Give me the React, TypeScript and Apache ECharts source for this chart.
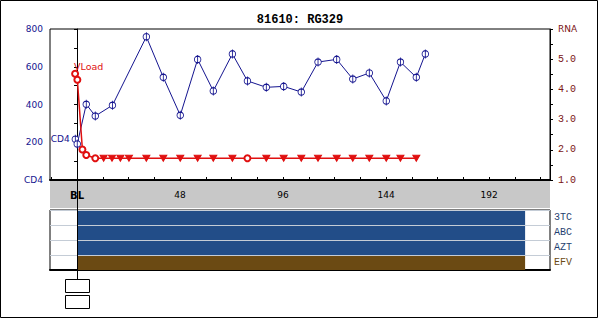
import React, { useEffect, useRef } from "react";
import * as echarts from "echarts";

const chartTitle = "81610: RG329";

const cd4Weeks = [-0.8, 0.1, 4.3, 8.5, 16.5, 32.3, 40.2, 48.1, 56.2, 63.5, 72.4, 79.4, 88.2, 96.3, 104.5, 112.3, 121, 128.5, 136.2, 144.1, 150.7, 158.1, 162.3];
const cd4Values = [216, 191, 401, 339, 396, 759, 544, 343, 639, 472, 668, 525, 491, 496, 466, 625, 639, 535, 567, 419, 625, 544, 668];

const loadWeeks = [-0.9, 0.15, 2.5, 4.3, 8.5, 12.4, 16.3, 20.2, 24.2, 32.3, 40.2, 48.1, 56.2, 63.5, 72.4, 79.4, 88.2, 96.3, 104.5, 112.3, 121, 128.5, 136.2, 144.1, 150.7, 158.1];
const loadValues = [4.52, 4.32, 2.01, 1.83, 1.72, 1.72, 1.72, 1.72, 1.72, 1.72, 1.72, 1.72, 1.72, 1.72, 1.72, 1.72, 1.72, 1.72, 1.72, 1.72, 1.72, 1.72, 1.72, 1.72, 1.72, 1.72];
const loadBelowLimit = [0, 0, 0, 0, 0, 1, 1, 1, 1, 1, 1, 1, 1, 1, 1, 0, 1, 1, 1, 1, 1, 1, 1, 1, 1, 1];

const drugNames = ["3TC", "ABC", "AZT", "EFV"];
const drugStart = [0, 0, 0, 0];
const drugEnd = [208.8, 208.8, 208.8, 208.8];
const drugColors = ["#224d88", "#224d88", "#224d88", "#6b4a13"];
const drugLabelColors = ["#1f3f70", "#1f3f70", "#1f3f70", "#6b4a13"];

const xTicks = [-12, 0, 12, 24, 36, 48, 60, 72, 84, 96, 108, 120, 132, 144, 156, 168, 180, 192, 204, 216];
const xLabels = [0, 48, 96, 144, 192];
const cd4Ticks = [0, 100, 200, 300, 400, 500, 600, 700, 800];
const cd4Labels = [0, 200, 400, 600, 800];
const rnaTicks = [1, 1.5, 2, 2.5, 3, 3.5, 4, 4.5, 5, 5.5, 6];
const rnaLabels = [1, 2, 3, 4, 5, 6];

const X_MIN = -12.6;
const X_MAX = 220.4;

const NAVY = "#14148f";
const RED = "#e01010";
const DARKRED = "#7a1414";
const SANS = "DejaVu Sans";
const MONO = "Liberation Mono";

export default function App() {
  const ref = useRef<HTMLDivElement>(null);

  useEffect(() => {
    if (!ref.current) return;
    const chart = echarts.init(ref.current, undefined, { renderer: "svg" });

    const cd4Data = cd4Weeks.map((w, i) =>
      i === 0
        ? {
            value: [w, cd4Values[i]],
            label: {
              show: true,
              position: "left",
              distance: 2,
              formatter: "CD4",
              color: NAVY,
              fontSize: 9,
              fontFamily: SANS,
            },
          }
        : { value: [w, cd4Values[i]] }
    );

    const loadData = loadWeeks.map((w, i) => {
      const blq = loadBelowLimit[i] === 1;
      const item: any = {
        value: [w, loadValues[i]],
        symbol: blq ? "triangle" : "emptyCircle",
        symbolRotate: blq ? 180 : 0,
        symbolSize: blq ? [7, 6] : 6,
      };
      if (i === 0) {
        item.label = {
          show: true,
          position: [3, -3.5],
          align: "left",
          verticalAlign: "middle",
          formatter: "VLoad",
          color: RED,
          fontSize: 9.5,
          fontFamily: SANS,
        };
      }
      return item;
    });

    const option: any = {
      animation: false,
      backgroundColor: "#fff",
      grid: [
        { left: 50, width: 500, top: 29, height: 151, show: true, borderColor: "#000", borderWidth: 1, backgroundColor: "#fff" },
        { left: 50, width: 500, top: 181, height: 27, show: true, borderWidth: 0, backgroundColor: "#c8c8c8" },
        { left: 50, width: 500, top: 210, height: 60, show: true, borderColor: "#000", borderWidth: 1, backgroundColor: "#fff" },
      ],
      xAxis: [
        {
          gridIndex: 0,
          type: "value",
          min: X_MIN,
          max: X_MAX,
          axisLine: { show: true, lineStyle: { color: "#000", width: 2 } },
          axisTick: { show: true, inside: true, length: 3, customValues: xTicks, lineStyle: { color: "#000" } },
          axisLabel: {
            customValues: xLabels,
            margin: 10,
            color: "#000",
            fontSize: 9,
            fontFamily: SANS,
            formatter: (v: number) => (v === 0 ? "{b|BL}" : String(v)),
            rich: { b: { fontWeight: "bold", fontSize: 10, fontFamily: SANS, color: "#000" } },
          },
          splitLine: { show: false },
        },
        { gridIndex: 1, type: "value", min: X_MIN, max: X_MAX, show: false },
        {
          gridIndex: 2,
          type: "value",
          min: X_MIN,
          max: X_MAX,
          axisLine: { show: true, lineStyle: { color: "#000", width: 2 } },
          axisTick: { show: false },
          axisLabel: { show: false },
          splitLine: { show: false },
        },
      ],
      yAxis: [
        {
          gridIndex: 0,
          type: "value",
          min: 0,
          max: 800,
          position: "left",
          axisLine: { show: true, lineStyle: { color: "#000", width: 1 } },
          axisTick: { show: true, length: 3, customValues: cd4Ticks, lineStyle: { color: "#000" } },
          axisLabel: {
            customValues: cd4Labels,
            margin: 7,
            color: NAVY,
            fontSize: 9,
            fontFamily: SANS,
            formatter: (v: number) => (v === 0 ? "CD4" : String(v)),
          },
          splitLine: { show: false },
        },
        {
          gridIndex: 0,
          type: "value",
          min: 1,
          max: 6,
          position: "right",
          axisLine: { show: true, lineStyle: { color: "#000", width: 1 } },
          axisTick: { show: true, length: 3, customValues: rnaTicks, lineStyle: { color: "#000" } },
          axisLabel: {
            customValues: rnaLabels,
            margin: 8,
            color: DARKRED,
            fontSize: 10,
            fontFamily: MONO,
            formatter: (v: number) => (v === 6 ? "{r|RNA}" : v.toFixed(1)),
            rich: { r: { fontFamily: SANS, fontSize: 9, color: DARKRED } },
          },
          splitLine: { show: false },
        },
        { gridIndex: 1, type: "value", min: 0, max: 1, show: false },
        {
          gridIndex: 2,
          type: "category",
          data: drugNames,
          inverse: true,
          position: "right",
          axisLine: { show: false },
          axisTick: { show: false },
          axisLabel: {
            margin: 4,
            fontSize: 10,
            fontFamily: MONO,
            color: (_v: string, idx: number) => drugLabelColors[idx],
          },
          splitLine: { show: true, lineStyle: { color: "#c4ccd6", width: 1 } },
        },
      ],
      series: [
        {
          name: "CD4",
          type: "line",
          xAxisIndex: 0,
          yAxisIndex: 0,
          data: cd4Data,
          symbol: "path://M5 0A5 5 0 1 1 5 10A5 5 0 1 1 5 0ZM5 -2L5 12",
          symbolSize: [6.5, 9],
          itemStyle: { color: "#fff", borderColor: NAVY, borderWidth: 1 },
          lineStyle: { color: NAVY, width: 1 },
          z: 3,
        },
        {
          name: "Load",
          type: "line",
          xAxisIndex: 0,
          yAxisIndex: 1,
          data: loadData,
          itemStyle: { color: RED, borderColor: RED, borderWidth: 1 },
          lineStyle: { color: RED, width: 1.5 },
          z: 4,
        },
        {
          name: "Drugs",
          type: "custom",
          xAxisIndex: 2,
          yAxisIndex: 3,
          data: drugNames.map((_n, i) => [i, drugStart[i], drugEnd[i]]),
          encode: { x: [1, 2], y: 0 },
          renderItem: (_params: any, api: any) => {
            const row = api.value(0);
            const s = api.coord([api.value(1), row]);
            const e = api.coord([api.value(2), row]);
            const h = api.size([0, 1])[1];
            return {
              type: "rect",
              shape: { x: s[0], y: s[1] - h / 2 + 1, width: e[0] - s[0], height: h - 1 },
              style: { fill: drugColors[row] },
            };
          },
          z: 2,
        },
      ],
    };

    chart.setOption(option);

    const x0 = chart.convertToPixel({ xAxisIndex: 0 }, 0) as number;
    const xr = Math.round(x0) + 0.5;
    chart.setOption({
      graphic: [
        { type: "rect", shape: { x: 0.5, y: 0.5, width: 597, height: 317 }, style: { fill: "none", stroke: "#000", lineWidth: 1 }, z: 10 },
        {
          type: "text",
          x: 300,
          y: 20,
          style: { text: chartTitle, font: `bold 12px "${MONO}"`, fill: "#000", align: "center", verticalAlign: "middle" },
          z: 10,
        },
        { type: "line", shape: { x1: xr, y1: 29, x2: xr, y2: 180 }, style: { stroke: "#000", lineWidth: 1, lineDash: [3, 2] }, z: 1 },
        { type: "line", shape: { x1: xr, y1: 180, x2: xr, y2: 279 }, style: { stroke: "#000", lineWidth: 1 }, z: 10 },
        { type: "rect", shape: { x: xr - 12, y: 279.5, width: 24, height: 13 }, style: { fill: "#fff", stroke: "#000", lineWidth: 1 }, z: 10 },
        { type: "rect", shape: { x: xr - 12, y: 295.5, width: 24, height: 13 }, style: { fill: "#fff", stroke: "#000", lineWidth: 1 }, z: 10 },
      ],
    });

    return () => chart.dispose();
  }, []);

  return <div ref={ref} style={{ position: "fixed", left: 0, top: 0, width: 600, height: 319 }} />;
}
